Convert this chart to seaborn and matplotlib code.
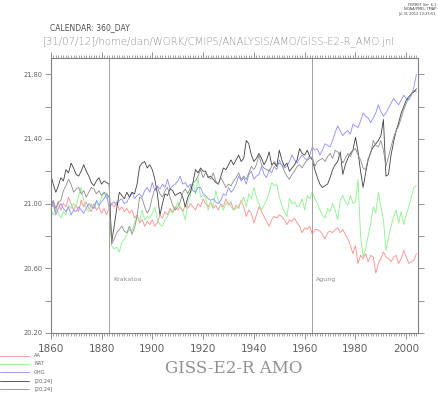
import numpy as np
import pandas as pd
import matplotlib
matplotlib.use("Agg")
import matplotlib.pyplot as plt
import seaborn as sns
from matplotlib.ticker import MultipleLocator, FuncFormatter
from matplotlib.lines import Line2D

# Annual AMO index values, 1860-2004
years = list(range(1860, 2005))

aa = [20.97, 20.99, 20.95, 21.01, 20.96, 21.00, 20.98, 21.04, 21.00, 20.96,
      20.99, 20.95, 21.02, 20.98, 21.01, 20.97, 20.95, 21.00, 20.96, 20.98,
      20.94, 20.97, 20.93, 20.97, 21.00, 20.98, 21.01, 20.96, 20.98, 20.95,
      20.97, 20.94, 20.96, 20.91, 20.93, 20.88, 20.90, 20.86, 20.89, 20.87,
      20.90, 20.86, 20.88, 20.93, 20.91, 20.95, 20.93, 20.97, 20.95, 20.98,
      20.96, 20.98, 20.95, 20.99, 20.97, 21.00, 20.98, 20.96, 21.00, 20.98,
      21.03, 21.00, 20.98, 21.01, 20.97, 20.99, 20.96, 21.00, 20.98, 21.03,
      20.99, 21.01, 20.96, 20.99, 20.97, 21.02, 20.98, 20.92, 20.96, 20.94,
      20.88, 20.93, 20.98, 20.95, 20.92, 20.89, 20.86, 20.90, 20.92, 20.91,
      20.93, 20.92, 20.90, 20.87, 20.90, 20.89, 20.91, 20.88, 20.86, 20.82,
      20.85, 20.84, 20.86, 20.81, 20.84, 20.84, 20.83, 20.81, 20.78, 20.82,
      20.83, 20.82, 20.84, 20.85, 20.82, 20.84, 20.81, 20.78, 20.74, 20.69,
      20.74, 20.63, 20.68, 20.66, 20.69, 20.64, 20.68, 20.67, 20.57, 20.63,
      20.66, 20.70, 20.67, 20.66, 20.64, 20.67, 20.68, 20.63, 20.66, 20.71,
      20.67, 20.63, 20.64, 20.65, 20.69]

nat = [20.96, 20.93, 20.98, 20.94, 20.91, 20.95, 20.93, 20.99, 20.97, 21.00,
       20.98, 21.05, 21.10, 21.02, 20.97, 20.95, 21.00, 20.97, 21.01, 20.98,
       21.04, 21.07, 21.03, 21.05, 20.74, 20.72, 20.73, 20.70, 20.76, 20.78,
       20.81, 20.84, 20.83, 20.88, 20.92, 20.89, 20.96, 20.90, 20.92, 20.91,
       20.94, 20.98, 20.90, 20.87, 20.86, 20.90, 20.92, 20.96, 20.94, 20.97,
       21.01, 20.98, 20.95, 20.90, 21.01, 21.05, 21.13, 21.06, 21.16, 21.04,
       21.05, 21.04, 20.96, 21.01, 20.98, 21.08, 21.02, 20.99, 20.96, 21.00,
       21.01, 20.98, 20.96, 20.97, 20.99, 21.01, 21.04, 20.98, 21.06, 21.03,
       21.10, 21.04, 21.00, 20.96, 20.99, 21.02, 21.07, 21.13, 21.11, 21.12,
       21.04, 20.99, 20.95, 20.92, 21.03, 21.00, 21.01, 20.98, 20.99, 21.03,
       20.96, 21.05, 21.03, 21.07, 21.03, 21.00, 20.96, 20.93, 20.91, 20.97,
       20.95, 21.00, 20.96, 20.90, 21.02, 21.05, 21.01, 20.99, 21.05, 21.00,
       21.01, 21.15, 20.80, 20.67, 20.72, 20.80, 20.88, 20.98, 20.94, 21.07,
       20.98, 20.90, 20.71, 20.79, 20.86, 20.92, 20.96, 20.88, 20.95, 20.87,
       20.93, 20.98, 21.04, 21.10, 21.11]

ghg = [20.96, 21.01, 20.93, 20.97, 21.00, 20.97, 20.95, 20.98, 20.93, 20.96,
       20.95, 20.98, 20.96, 20.94, 20.97, 21.00, 20.98, 20.97, 21.02, 20.99,
       21.01, 21.03, 21.06, 20.97, 21.00, 21.01, 20.99, 21.02, 21.03, 21.00,
       21.01, 21.04, 21.07, 21.03, 21.05, 21.06, 21.04, 21.08, 21.10, 21.07,
       21.13, 21.08, 21.11, 21.09, 21.12, 21.10, 21.15, 21.09, 21.11, 21.12,
       21.14, 21.17, 21.12, 21.13, 21.10, 21.12, 21.08, 21.07, 21.10, 21.10,
       21.06, 21.05, 21.03, 21.02, 21.03, 21.01, 21.00, 21.02, 21.06, 21.05,
       21.10, 21.07, 21.09, 21.12, 21.17, 21.14, 21.16, 21.12, 21.18, 21.20,
       21.15, 21.17, 21.18, 21.23, 21.18, 21.16, 21.21, 21.19, 21.23, 21.21,
       21.27, 21.24, 21.22, 21.23, 21.26, 21.30, 21.27, 21.25, 21.28, 21.30,
       21.28, 21.27, 21.30, 21.35, 21.33, 21.34, 21.30, 21.33, 21.37, 21.36,
       21.35, 21.39, 21.44, 21.48, 21.45, 21.42, 21.44, 21.45, 21.43, 21.49,
       21.48, 21.47, 21.51, 21.56, 21.54, 21.53, 21.50, 21.53, 21.56, 21.61,
       21.57, 21.54, 21.56, 21.59, 21.62, 21.65, 21.63, 21.61, 21.64, 21.67,
       21.65, 21.64, 21.67, 21.72, 21.80]

obs_a = [21.18, 21.12, 21.07, 21.11, 21.16, 21.14, 21.21, 21.19, 21.25, 21.22,
         21.18, 21.17, 21.20, 21.24, 21.20, 21.17, 21.13, 21.11, 21.14, 21.16,
         21.12, 21.14, 21.13, 21.12, 20.76, 20.86, 20.97, 21.07, 21.05, 21.03,
         21.07, 21.04, 21.07, 21.06, 21.12, 21.23, 21.25, 21.26, 21.22, 21.24,
         21.21, 21.15, 21.06, 20.93, 21.00, 21.06, 21.05, 21.09, 21.08, 21.05,
         21.06, 21.07, 21.04, 20.98, 21.04, 21.07, 21.13, 21.21, 21.19, 21.22,
         21.20, 21.20, 21.16, 21.17, 21.15, 21.13, 21.12, 21.17, 21.22, 21.21,
         21.24, 21.27, 21.24, 21.27, 21.30, 21.26, 21.28, 21.39, 21.37, 21.30,
         21.26, 21.28, 21.31, 21.28, 21.24, 21.27, 21.32, 21.24, 21.25, 21.23,
         21.33, 21.27, 21.23, 21.25, 21.20, 21.22, 21.24, 21.27, 21.34, 21.31,
         21.30, 21.33, 21.29, 21.27, 21.21, 21.16, 21.12, 21.10, 21.11, 21.12,
         21.16, 21.21, 21.24, 21.26, 21.32, 21.18, 21.24, 21.28, 21.31, 21.33,
         21.41, 21.32, 21.20, 21.10, 21.19, 21.27, 21.32, 21.35, 21.37, 21.39,
         21.42, 21.52, 21.17, 21.18, 21.30, 21.38, 21.45, 21.50, 21.56, 21.60,
         21.64, 21.66, 21.68, 21.69, 21.71]

obs_b = [20.99, 21.02, 20.97, 21.01, 21.02, 21.08, 21.11, 21.15, 21.12, 21.07,
         21.09, 21.10, 21.06, 21.08, 21.04, 21.07, 21.10, 21.09, 21.06, 21.08,
         21.05, 21.07, 21.06, 21.04, 20.75, 20.78, 20.82, 20.84, 20.86, 20.83,
         20.82, 20.86, 20.81, 20.85, 20.92, 21.04, 21.03, 20.98, 20.94, 20.97,
         21.04, 21.09, 21.10, 21.06, 21.04, 21.08, 21.10, 21.04, 20.99, 20.96,
         20.98, 21.01, 21.07, 21.09, 21.06, 21.10, 21.13, 21.14, 21.17, 21.21,
         21.16, 21.19, 21.17, 21.15, 21.19, 21.14, 21.12, 21.16, 21.13, 21.10,
         21.12, 21.11, 21.14, 21.16, 21.19, 21.15, 21.17, 21.15, 21.19, 21.23,
         21.21, 21.24, 21.30, 21.24, 21.22, 21.21, 21.20, 21.23, 21.26, 21.24,
         21.25, 21.24, 21.20, 21.17, 21.15, 21.18, 21.20, 21.23, 21.24, 21.22,
         21.25, 21.27, 21.28, 21.29, 21.23, 21.26, 21.27, 21.28, 21.26, 21.29,
         21.31, 21.28, 21.33, 21.32, 21.29, 21.25, 21.28, 21.31, 21.29, 21.33,
         21.34, 21.30, 21.27, 21.22, 21.21, 21.28, 21.31, 21.39, 21.36, 21.35,
         21.39, 21.33, 21.23, 21.29, 21.35, 21.41, 21.45, 21.48, 21.53, 21.58,
         21.62, 21.66, 21.68, 21.70, 21.69]

series_names = ["AA", "NAT", "GHG", "[20,24] a", "[20,24] b"]
legend_labels = ["AA", "NAT", "GHG", "[20,24]", "[20,24]"]
colors = ["#ff8c8c", "#8cf08c", "#8c8cff", "#404040", "#8c8c8c"]

volcano_years = [1883, 1963]
volcano_names = ["Krakatoa", "Agung"]

# long-format table for seaborn
df = pd.DataFrame({
    "year": years * 5,
    "value": aa + nat + ghg + obs_a + obs_b,
    "series": sum([[n] * len(years) for n in series_names], []),
})

sns.set_style("white")
fig = plt.figure(figsize=(4.39, 3.93), dpi=100)
ax = fig.add_axes([0.1155, 0.1527, 0.836, 0.6997])

sns.lineplot(data=df, x="year", y="value", hue="series", hue_order=series_names,
             palette=colors, linewidth=0.6, legend=False, ax=ax)

for yr, name in zip(volcano_years, volcano_names):
    ax.axvline(yr, color="#a0a0a0", linewidth=0.7)
    ax.text(yr + 1.6, 20.53, name, fontsize=4.5, color="#8c8c8c", va="center")

ax.set_xlim(1860, 2004.5)
ax.set_ylim(20.2, 21.9)
ax.set_xlabel("")
ax.set_ylabel("")


def ylab(v, p):
    k = (v - 20.2) / 0.4
    return f"{v:.2f}" if abs(k - round(k)) < 1e-6 else ""


ax.xaxis.set_major_locator(MultipleLocator(20))
ax.xaxis.set_minor_locator(MultipleLocator(1))
ax.yaxis.set_major_locator(MultipleLocator(0.2))
ax.yaxis.set_major_formatter(FuncFormatter(ylab))

ax.tick_params(axis="x", which="major", top=True, bottom=True, direction="out",
               length=4, width=0.6, color="#808080", labelsize=7.5,
               labelcolor="#606060", pad=4)
ax.tick_params(axis="x", which="minor", top=True, bottom=True, direction="out",
               length=2.2, width=0.5, color="#808080")
ax.tick_params(axis="y", which="major", left=True, right=True, direction="out",
               length=4, width=0.6, color="#808080", labelsize=4.8,
               labelcolor="#606060", pad=2)
for s in ax.spines.values():
    s.set_color("#808080")
    s.set_linewidth(0.8)

# header text
fig.text(0.114, 0.93, "CALENDAR: 360_DAY", fontsize=5.5, color="#505050",
         va="center")
fig.text(0.098, 0.893, "[31/07/12]/home/dan/WORK/CMIP5/ANALYSIS/AMO/GISS-E2-R_AMO.jnl",
         fontsize=7.3, color="#909090", va="center", fontweight="light")
fig.text(0.993, 0.993, "FERRET Ver. 6.1\nNOAA/PMEL TMAP\nJul 31 2012 13:23:51",
         fontsize=2.6, color="#404040", ha="right", va="top", linespacing=1.2)

# title under the plot
fig.text(0.533, 0.063, "GISS-E2-R AMO", fontsize=12, color="#909090",
         family="DejaVu Serif", ha="center", va="center")

# key at lower left
key_y = [0.095, 0.074, 0.053, 0.031, 0.010]
for yk, c, lab in zip(key_y, colors, legend_labels):
    fig.add_artist(Line2D([0.0, 0.066], [yk, yk], color=c, linewidth=0.6,
                          transform=fig.transFigure))
    fig.text(0.078, yk, lab, fontsize=3.6, color="#606060", va="center")

fig.savefig("out.png", dpi=100)
